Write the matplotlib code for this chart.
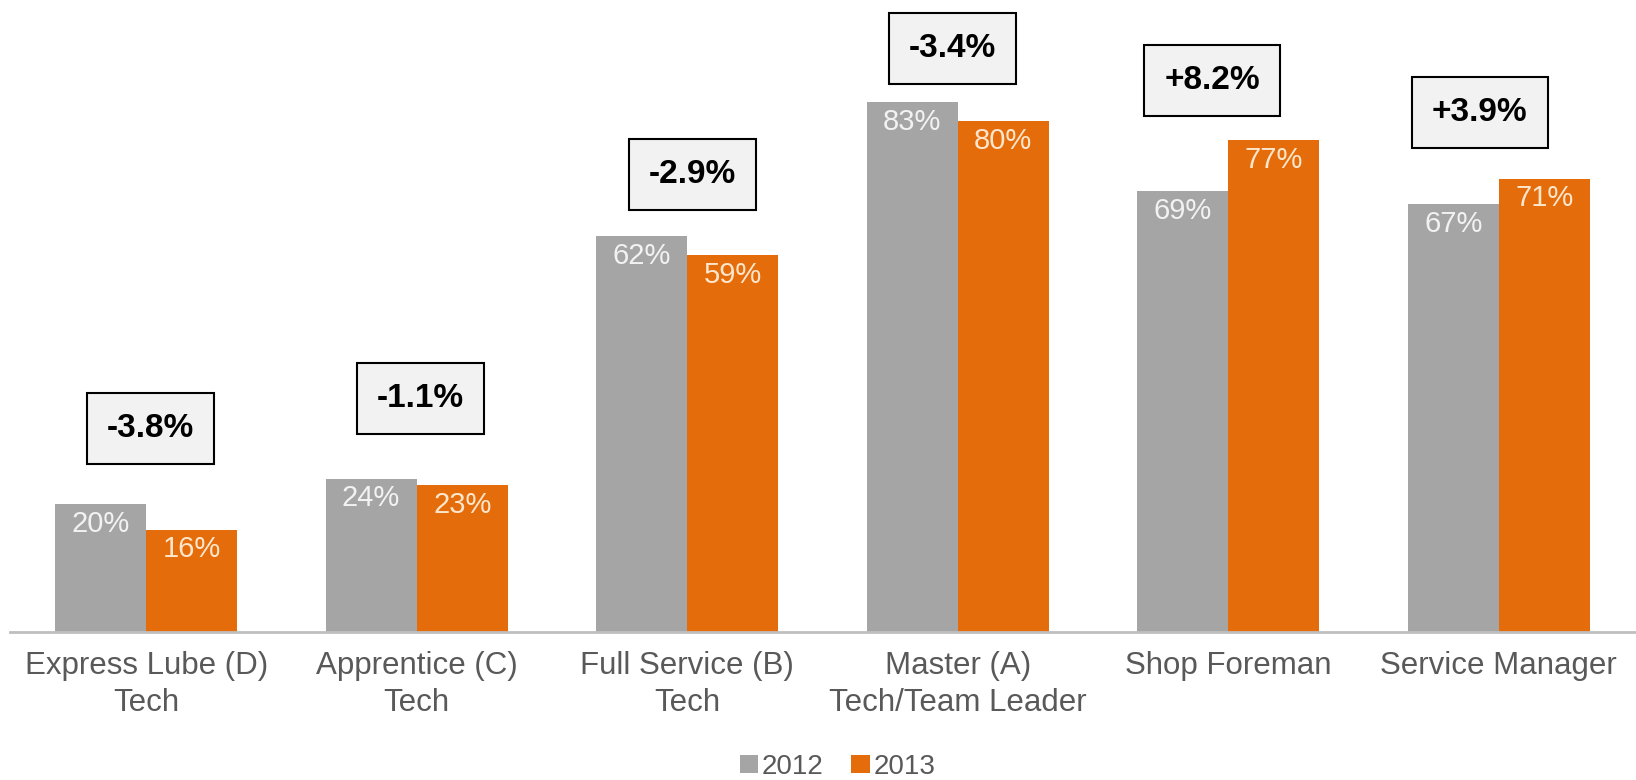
import numpy as np
import matplotlib.pyplot as plt

plt.rcParams['font.family'] = ['Liberation Sans', 'DejaVu Sans']

# data
categories = ['Express Lube (D)\nTech', 'Apprentice (C)\nTech', 'Full Service (B)\nTech',
              'Master (A)\nTech/Team Leader', 'Shop Foreman', 'Service Manager']
v2012 = [20, 24, 62, 83, 69, 67]
v2013 = [16, 23, 59, 80, 77, 71]
changes = ['-3.8%', '-1.1%', '-2.9%', '-3.4%', '+8.2%', '+3.9%']
# where the change boxes sit (value units), and small x nudges
box_y = [31.8, 36.6, 71.7, 91.4, 86.4, 81.4]
box_dx = [0.015, 0.015, 0.02, -0.02, -0.06, -0.07]

gray = '#a5a5a5'
orange = '#e46c0a'

fig = plt.figure(figsize=(16.36, 7.8), dpi=100)
ax = fig.add_axes([0.006, 0.19, 0.994, 0.81])

x = np.arange(len(categories))
w = 0.337
b1 = ax.bar(x - w/2, v2012, w, color=gray, label='2012')
b2 = ax.bar(x + w/2, v2013, w, color=orange, label='2013')

for bars, vals, col in [(b1, v2012, '#f2f2f2'), (b2, v2013, '#fde6cc')]:
    for r, v in zip(bars, vals):
        ax.annotate(f'{v}%', (r.get_x() + r.get_width()/2, v), xytext=(0, -4),
                    textcoords='offset points', ha='center', va='top',
                    fontsize=21, color=col)

for i, t in enumerate(changes):
    ax.text(x[i] + box_dx[i], box_y[i], t, ha='center', va='center', fontsize=24,
            fontweight='bold', color='black',
            bbox=dict(boxstyle='square,pad=0.6', facecolor='#f2f2f2',
                      edgecolor='black', linewidth=1.5))

ax.set_xlim(-0.504, 5.507)
ax.set_ylim(0, 99)
ax.set_xticks(x)
ax.set_xticklabels(categories, fontsize=22.5, color='#595959', linespacing=1.3)
ax.tick_params(axis='x', length=0, pad=14)
ax.set_yticks([])
for s in ['top', 'right', 'left']:
    ax.spines[s].set_visible(False)
ax.spines['bottom'].set_color('#bfbfbf')
ax.spines['bottom'].set_linewidth(2)

fig.legend(handles=[b1, b2], labels=['2012', '2013'], loc='center',
           bbox_to_anchor=(0.512, 0.017), ncol=2, frameon=False, fontsize=20,
           handlelength=0.65, handleheight=0.65, handletextpad=0.15,
           columnspacing=1.0, labelcolor='#595959')

fig.savefig('out.png', dpi=100)
